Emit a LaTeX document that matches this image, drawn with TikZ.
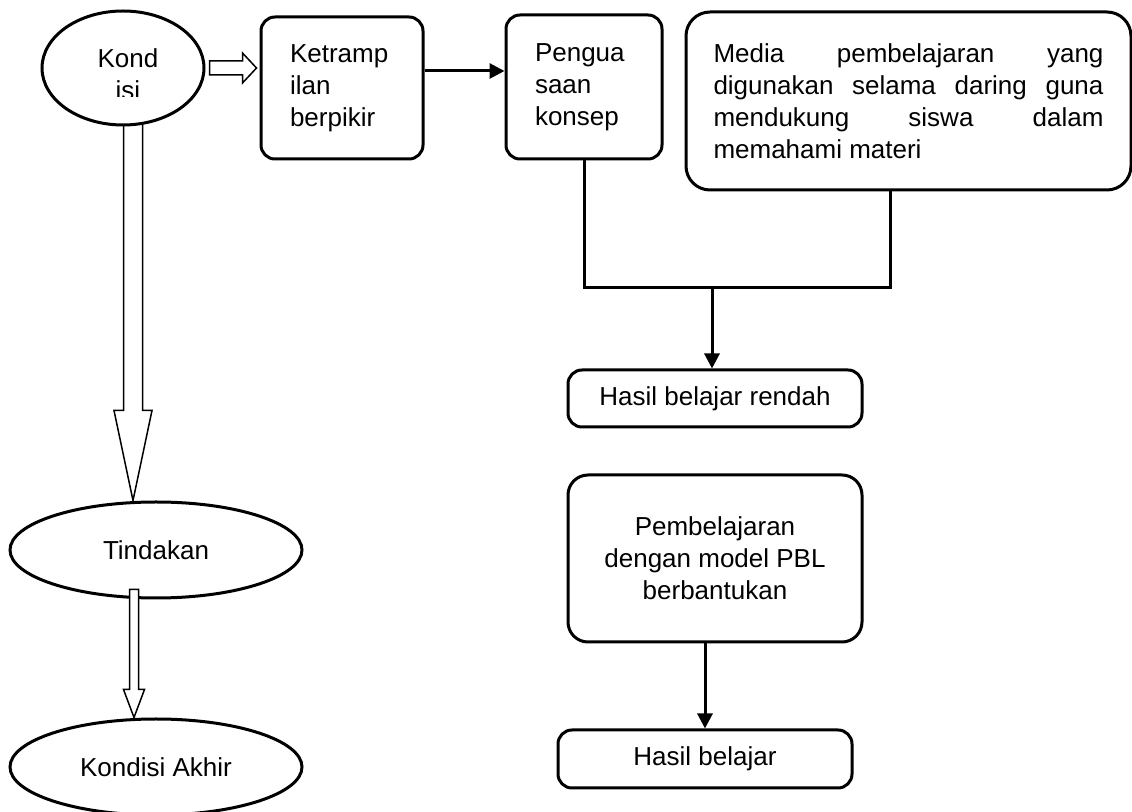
\documentclass[tikz,border=0pt]{standalone}
\usepackage{fontspec}
\setmainfont{Liberation Sans}
\usepackage{tikz}
\usetikzlibrary{positioning,shapes,arrows.meta,calc,backgrounds}
\hyphenpenalty=10000
\tolerance=10000
\hbadness=10000

\tikzset{
  box/.style={draw, line width=1.5pt, rounded corners=7pt, fill=white},
  oval/.style={draw, ellipse, line width=1.5pt, fill=white, inner sep=0pt},
  hollow/.style={draw, line width=0.75pt, fill=white, line join=miter},
  conn/.style={line width=1.5pt},
  connarrow/.style={line width=1.5pt, -{Triangle[length=7.5pt,width=7.5pt]}}
}

\begin{document}
\begin{tikzpicture}[x=0.5pt, y=-0.5pt, every node/.style={font=\fontsize{13}{16}\selectfont}]
\useasboundingbox (0,0) rectangle (1132,812);

% Left column: conditions and action
\node[oval, minimum width=81pt, minimum height=57pt] (kondisi) at (123,68) {};
\node[oval, minimum width=146pt, minimum height=48pt] (tindakan) at (156,550) {Tindakan};
\node[oval, minimum width=146pt, minimum height=48pt] (akhir) at (156,767) {Kondisi Akhir};

% Text of the first ellipse (cut at the bottom)
\begin{scope}
\clip (40,10) rectangle (210,97);
\node[align=center] (kondisitxt) at (128,74) {Kond\\isi};
\end{scope}

% Top row of problems
\node[box, align=left, text width=52pt, inner xsep=14.5pt, minimum height=71pt] (ketr) at (342,88) {Ketramp\\ilan\\berpikir};
\node[box, align=left, text width=49pt, inner xsep=14.5pt, minimum height=72pt] (pengua) at (584,87) {Pengua\\saan\\konsep};
\node[box, align=justify, text width=195pt, inner xsep=13.75pt, minimum height=89pt, rounded corners=12pt] (media) at (908.5,101)
  {Media pembelajaran yang\linebreak digunakan selama daring guna\linebreak mendukung siswa dalam\linebreak memahami materi};

% Results
\node[box, minimum width=147pt, minimum height=28.5pt] (rendah) at (715,398.5) {Hasil belajar rendah};
\node[box, align=center, minimum width=147pt, minimum height=83.5pt, rounded corners=10pt] (pbl) at (715,558.5) {Pembelajaran\\dengan model PBL\\berbantukan};
\node[box, minimum width=147pt, minimum height=29pt] (hasil) at (705,759) {Hasil belajar};

% Hollow arrows
\draw[hollow] let \p1=([xshift=2pt]kondisi.east), \p2=([xshift=-1.5pt]ketr.west) in
  (\x1,\y1+3.5pt) -- (\x2-7pt,\y1+3.5pt) -- (\x2-7pt,\y1+7.5pt) -- (\x2,\y1)
  -- (\x2-7pt,\y1-7.5pt) -- (\x2-7pt,\y1-3.5pt) -- (\x1,\y1-3.5pt) -- cycle;
\begin{scope}[on background layer]
\draw[hollow] let \p1=([xshift=5pt,yshift=4pt]kondisi.south), \p2=(tindakan.north) in
  (\x1-4.75pt,\y1) -- (\x1-4.75pt,\y2+45pt) -- (\x1-9.5pt,\y2+45pt) -- (\x1,\y2)
  -- (\x1+9.5pt,\y2+45pt) -- (\x1+4.75pt,\y2+45pt) -- (\x1+4.75pt,\y1) -- cycle;
\end{scope}
\draw[hollow] let \p1=([xshift=-11pt,yshift=5pt]tindakan.south), \p2=(akhir.north) in
  (\x1-2.25pt,\y1) -- (\x1-2.25pt,\y2+14pt) -- (\x1-5.25pt,\y2+14pt) -- (\x1,\y2)
  -- (\x1+5.25pt,\y2+14pt) -- (\x1+2.25pt,\y2+14pt) -- (\x1+2.25pt,\y1) -- cycle;

% Connectors
\coordinate (join) at (712,288);
\draw[connarrow] ([yshift=8.5pt]ketr.east) -- ([yshift=8.5pt]ketr.east -| pengua.west);
\draw[conn] (pengua.south) |- (join) -| ([xshift=-9pt]media.south);
\draw[connarrow] (join) -- (join |- rendah.north);
\draw[connarrow] (pbl.south -| hasil.north) -- (hasil.north);
\end{tikzpicture}
\end{document}
